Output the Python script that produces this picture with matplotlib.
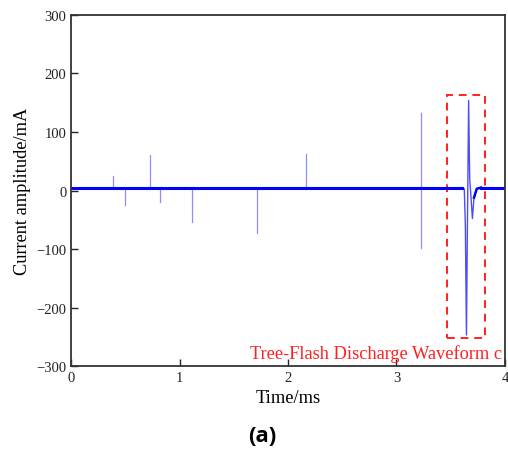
import matplotlib.pyplot as plt
import matplotlib.patches as patches

plt.rcParams['font.family'] = ['Liberation Serif', 'DejaVu Serif']

# baseline level (mA)
baseline = 5

# isolated partial-discharge spikes: time (ms), peak amplitude (mA)
spike_t = [0.387, 0.50, 0.73, 0.82, 1.115, 1.71, 2.17, 3.225, 3.23]
spike_a = [24, -25, 60, -20, -53, -73, 62, 133, -99]

# main tree-flash discharge waveform
wave_t = [3.60, 3.625, 3.635, 3.645, 3.655, 3.665, 3.675, 3.69, 3.70, 3.715, 3.74, 3.78]
wave_a = [5, 3, -60, -247, -40, 154, 20, -20, -48, -12, 3, 5]

# highlight box (ms, mA)
box_x = [3.47, 3.82]
box_y = [-252, 164]

fig = plt.figure(figsize=(5.08, 4.56), dpi=100)
ax = fig.add_axes([0.140, 0.195, 0.854, 0.770])

# baseline trace
ax.plot([0, 3.60], [baseline, baseline], color='#0000ff', lw=2.2)
ax.plot([3.78, 4.0], [baseline, baseline], color='#0000ff', lw=2.2)

# spikes
for t, a in zip(spike_t, spike_a):
    ax.plot([t, t], [baseline, a], color='#0000ff', lw=0.9, alpha=0.45)

ax.plot(wave_t, wave_a, color='#0000ff', lw=1.0, alpha=0.7)
ax.plot(wave_t[-3:], wave_a[-3:], color='#0000ff', lw=1.8)

rect = patches.Rectangle((box_x[0], box_y[0]), box_x[1] - box_x[0], box_y[1] - box_y[0],
                         fill=False, edgecolor='#ff2020', lw=1.4, linestyle=(0, (4, 3)))
ax.add_patch(rect)

ax.text(3.975, -277, 'Tree-Flash Discharge Waveform c', color='#ff2020',
        fontsize=13.2, ha='right', va='center')

ax.set_xlim(0, 4)
ax.set_ylim(-300, 300)
ax.set_xticks([0, 1, 2, 3, 4])
ax.set_yticks([-300, -200, -100, 0, 100, 200, 300])
ax.set_yticklabels(['\u2212300', '\u2212200', '\u2212100', '0', '100', '200', '300'])
ax.tick_params(direction='in', length=5, width=1, labelsize=10.5, colors='#222222')
for s in ax.spines.values():
    s.set_linewidth(1.3)
    s.set_color('#333333')

ax.set_xlabel('Time/ms', fontsize=13.2)
ax.set_ylabel('Current amplitude/mA', fontsize=13.2)

fig.text(0.516, 0.042, '(a)', fontsize=16, fontweight='bold', family='Open Sans',
         ha='center', va='center')

fig.savefig('out.png', dpi=100)
